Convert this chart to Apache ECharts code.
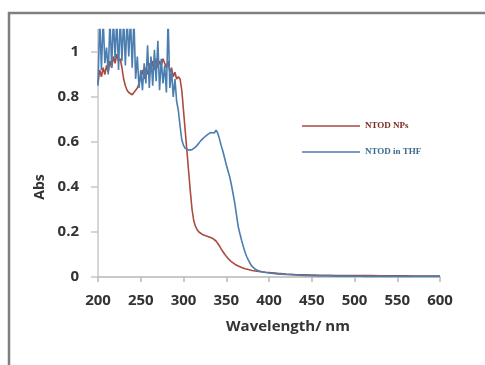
<!DOCTYPE html>
<html>
<head>
<meta charset="utf-8">
<script src="https://cdn.jsdelivr.net/npm/echarts@6/dist/echarts.min.js"></script>
<style>
html,body{margin:0;padding:0;background:#fff;}
#chart{width:485px;height:365px;}
</style>
</head>
<body>
<div id="chart"></div>
<script>
// Wavelength samples (nm)
var wavelengths = [
200,202,204,206,208,210,212,214,216,218,
220,222,224,226,228,230,232,234,236,238,
240,242,244,246,248,250,252,254,256,258,
260,262,264,266,268,270,272,274,276,278,
280,282,284,286,288,290,292,294,296,
298,300,302,304,306,308,310,312,314,316,
318,320,322,324,326,328,330,332,334,336,
338,340,342,344,346,348,350,352,354,356,
358,360,362,364,366,368,370,372,374,376,
378,380,382,384,386,388,390,392,394,396,
398,400,
410,420,430,440,450,460,470,480,490,500,
510,520,530,540,550,560,570,580,590,600
];

// NTOD NPs absorbance
var npsAbs = [
0.86,0.92,0.89,0.93,0.90,0.94,0.91,0.96,0.93,0.98,
0.95,0.99,0.96,0.97,0.93,0.88,0.85,0.83,0.82,0.815,
0.81,0.82,0.83,0.84,0.86,0.89,0.92,0.88,0.93,0.90,
0.95,0.91,0.96,0.92,0.97,0.93,0.96,0.94,0.97,0.95,
0.93,0.96,0.91,0.93,0.89,0.91,0.88,0.89,0.88,
0.83,0.74,0.65,0.56,0.47,0.38,0.30,0.25,0.225,0.21,
0.20,0.193,0.189,0.186,0.183,0.180,0.178,0.175,0.172,0.167,
0.160,0.150,0.138,0.125,0.113,0.102,0.092,0.083,0.075,0.068,
0.062,0.057,0.053,0.049,0.045,0.042,0.039,0.037,0.035,0.033,
0.031,0.029,0.028,0.027,0.026,0.025,0.024,0.023,0.022,0.021,
0.021,0.020,
0.016,0.013,0.011,0.010,0.009,0.008,0.008,0.007,0.007,0.006,
0.006,0.006,0.005,0.005,0.005,0.005,0.004,0.004,0.004,0.004
];

// NTOD in THF absorbance
var thfAbs = [
0.85,1.15,0.92,1.15,0.95,1.02,0.90,1.15,0.93,1.15,
0.97,1.15,0.92,1.15,0.96,1.15,0.94,1.15,0.98,1.15,
0.93,1.15,0.88,0.98,0.84,0.92,0.83,0.95,0.86,1.03,
0.84,0.98,0.85,1.01,0.87,1.05,0.83,0.97,0.86,0.94,
0.82,1.15,0.84,0.92,0.80,0.88,0.78,0.74,0.67,
0.61,0.585,0.572,0.566,0.564,0.564,0.566,0.570,0.577,0.585,
0.595,0.605,0.613,0.620,0.627,0.633,0.638,0.642,0.646,0.640,
0.652,0.640,0.615,0.585,0.560,0.530,0.500,0.472,0.446,0.410,
0.370,0.327,0.275,0.224,0.192,0.162,0.135,0.110,0.090,0.074,
0.060,0.048,0.040,0.034,0.030,0.027,0.024,0.022,0.021,0.020,
0.019,0.018,
0.014,0.011,0.009,0.007,0.006,0.005,0.005,0.004,0.004,0.004,
0.003,0.003,0.003,0.003,0.003,0.003,0.003,0.003,0.003,0.003
];

var seriesNames = ['NTOD NPs', 'NTOD in THF'];
var xTicks = [200,250,300,350,400,450,500,550,600];
var yTicks = [0,0.2,0.4,0.6,0.8,1];

function pairs(xs, ys){
  var out = [];
  for (var i = 0; i < xs.length; i++) out.push([xs[i], ys[i]]);
  return out;
}

var redColor = '#ad4a3e';
var blueColor = '#4a7db0';

var chart = echarts.init(document.getElementById('chart'), null, {renderer:'canvas'});
var labelFont = {fontFamily:'Open Sans', fontWeight:'bold', fontSize:15, color:'#333'};

chart.setOption({
  animation:false,
  backgroundColor:'#ffffff',
  grid:{left:98, top:29.5, width:342, height:247.5, containLabel:false},
  xAxis:{
    type:'value', min:200, max:600, interval:50,
    axisLine:{show:true, lineStyle:{color:'#b8b8b8', width:1.5}},
    axisTick:{show:true, length:5, inside:false, lineStyle:{color:'#b8b8b8', width:1.5}, customValues:xTicks},
    axisLabel:Object.assign({margin:16, customValues:xTicks}, labelFont),
    splitLine:{show:false}
  },
  yAxis:{
    type:'value', min:0, max:1.1, interval:0.2,
    axisLine:{show:true, lineStyle:{color:'#c8c8c8', width:1.5}},
    axisTick:{show:true, length:7, lineStyle:{color:'#c8c8c8', width:1.5}, customValues:yTicks},
    axisLabel:Object.assign({margin:19, customValues:yTicks}, labelFont),
    splitLine:{show:false}
  },
  legend:{
    orient:'vertical', left:297, top:115,
    icon:'rect',
    itemWidth:58, itemHeight:1.6, itemGap:14,
    data:[
      {name:seriesNames[0], textStyle:{color:'#7a2a1e'}},
      {name:seriesNames[1], textStyle:{color:'#3a6a8c'}}
    ],
    textStyle:{fontFamily:'Liberation Serif', fontWeight:'bold', fontSize:9, lineHeight:12}
  },
  graphic:[
    {type:'rect', shape:{x:9, y:13, width:600, height:500}, style:{fill:'none', stroke:'#7f7f7f', lineWidth:2.5}, silent:true},
    {type:'text', x:288, y:327, style:{text:'Wavelength/ nm', fontFamily:'Open Sans', fontWeight:'bold', fontSize:15, fill:'#333', textAlign:'center', textVerticalAlign:'middle'}},
    {type:'text', x:40, y:187, rotation:Math.PI/2, style:{text:'Abs', fontFamily:'Open Sans', fontWeight:'bold', fontSize:14, fill:'#333', textAlign:'center', textVerticalAlign:'middle'}}
  ],
  series:[
    {name:seriesNames[0], type:'line', data:pairs(wavelengths, npsAbs), showSymbol:false, symbol:'none', clip:true,
     lineStyle:{color:redColor, width:1.6}, itemStyle:{color:redColor}, z:2},
    {name:seriesNames[1], type:'line', data:pairs(wavelengths, thfAbs), showSymbol:false, symbol:'none', clip:true,
     lineStyle:{color:blueColor, width:1.6}, itemStyle:{color:blueColor}, z:3}
  ]
});
</script>
</body>
</html>
